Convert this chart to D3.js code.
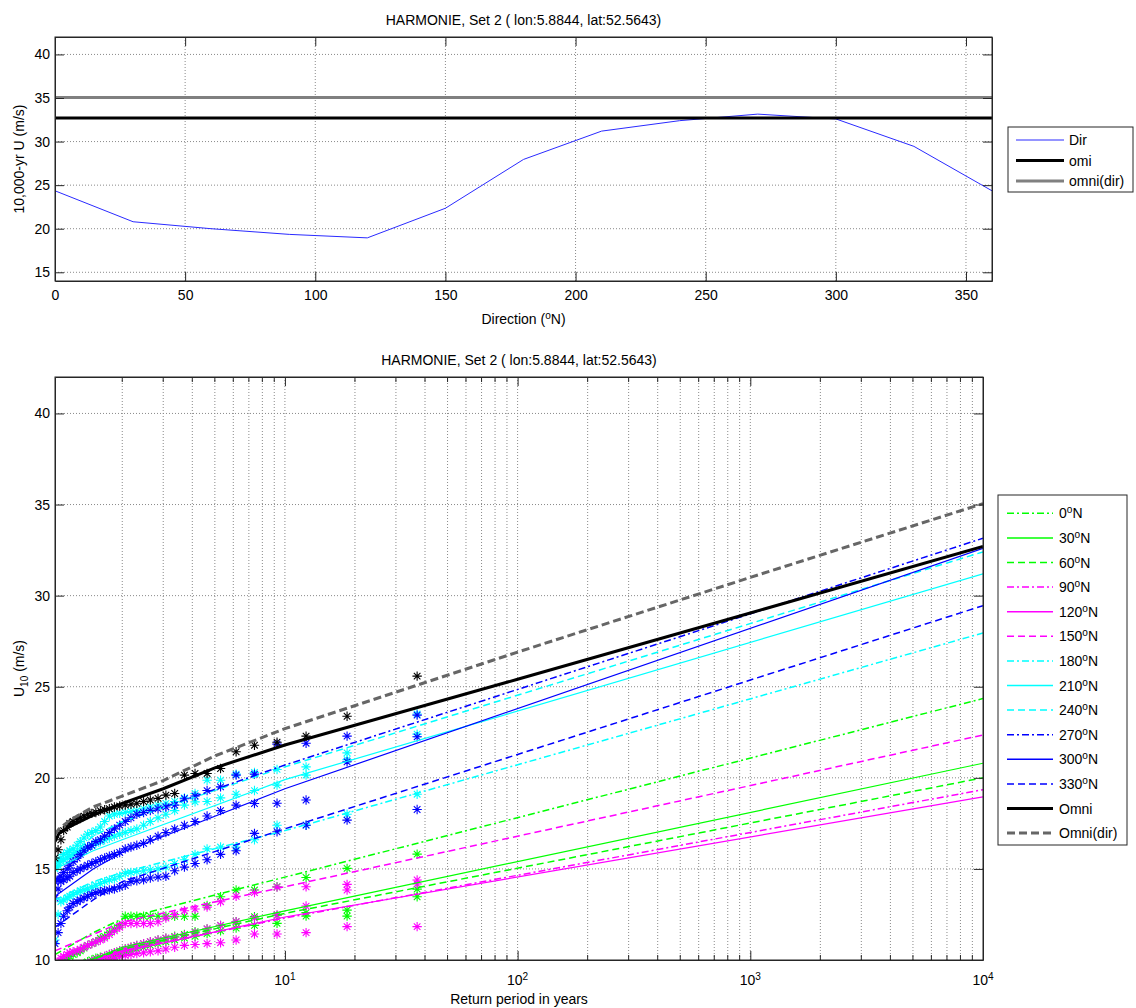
<!DOCTYPE html>
<html><head><meta charset="utf-8">
<script src="https://cdn.jsdelivr.net/npm/d3@7"></script>
<style>
body{margin:0;background:#fff;}
text{font-family:"Liberation Sans",Arial,Helvetica,sans-serif;fill:#000;}
</style>
</head><body>
<svg id="c" width="1136" height="1008"></svg>
<script>
// ---------------- DATA ----------------
const titleText = "HARMONIE, Set 2 ( lon:5.8844, lat:52.5643)";
// top panel: 10,000-yr value per direction
const dirAngles = [0,30,60,90,120,150,180,210,240,270,300,330,360];
const dir10k    = [24.35,20.8,20.0,19.35,18.95,22.35,27.95,31.2,32.4,33.15,32.6,29.45,24.35];
const omniLevel = 32.7;
const omniDirLevel = 35.05;
const topXTicks = [0,50,100,150,200,250,300,350];
const topYTicks = [15,20,25,30,35,40];

// bottom panel
const botYTicks = [10,15,20,25,30,35,40];
const botXTicks = [10,100,1000,10000];
const botXExp   = ["1","2","3","4"];
const dirLabels = ["0","30","60","90","120","150","180","210","240","270","300","330"];
const dirColors = ["#00ff00","#00ff00","#00ff00","#ff00ff","#ff00ff","#ff00ff","#00ffff","#00ffff","#00ffff","#0000ff","#0000ff","#0000ff"];
const dirStyles = ["dashdot","solid","dashed","dashdot","solid","dashed","dashdot","solid","dashed","dashdot","solid","dashed"];

// fitted curves (return period -> U10)
const fitT = [1.028,1.5,2,10,10000];
const fit0   = [10.3,11.5,12.26,14.55,24.35];
const fit30  = [9.3,10.05,10.7,12.7,20.8];
const fit60  = [9.2,10.0,10.6,12.56,20.0];
const fit90  = [9.2,9.95,10.5,12.3,19.35];
const fit120 = [9.1,9.9,10.45,12.36,18.95];
const fit150 = [10.5,11.4,12.09,14.02,22.35];
const fit180 = [13.3,14.3,14.8,17.1,27.95];
const fit210 = [15.0,16.0,16.6,19.9,31.2];
const fit240 = [15.0,16.8,17.6,20.6,32.4];
const fit270 = [14.4,16.3,17.6,20.7,33.15];
const fit300 = [13.5,15.0,15.9,19.4,32.6];
const fit330 = [11.8,13.3,14.3,17.2,29.45];
const omniT    = [1.028,1.07,1.2,1.5,2,3,5,10,100,1000,10000];
const omniFit  = [16.5,16.95,17.35,17.95,18.6,19.4,20.55,21.8,25.41,29.05,32.7];
const omniDirFit = [16.9,17.2,17.7,18.4,19.0,19.85,21.2,22.7,26.9,31.0,35.05];

// empirical return periods of the ranked annual maxima
const empT = [37,18.5,12.33,9.25,7.4,6.17,5.29,4.63,4.11,3.7,3.36,3.08,2.85,2.64,2.47,2.31,2.18,2.06,1.95,1.85,1.76,1.68,1.61,1.54,1.48,1.42,1.37,1.32,1.28,1.23,1.19,1.16,1.12,1.09,1.06,1.028];
const pts0   = [15.81,15.03,14.53,14.02,13.84,13.84,13.47,13.0,12.4,12.4,12.4,12.4,12.4,12.4,12.4,12.4,12.4,12.4,11.9,11.7,11.5,11.3,11.2,11.0,10.9,10.8,10.65,10.5,10.4,10.3,10.2,10.1,10.0,9.9,9.7,9.5];
const pts30  = [13.89,12.74,12.6,12.45,12.38,12.1,11.9,11.7,11.55,11.4,11.3,11.2,11.1,11.0,10.9,10.8,10.7,10.6,10.5,10.4,10.3,10.2,10.15,10.1,10.0,9.9,9.8,9.7,9.6,9.5,9.4,9.3,9.2,9.1,9.0,8.9];
const pts60  = [13.47,12.41,12.41,12.01,11.9,11.75,11.6,11.45,11.3,11.2,11.1,11.0,10.9,10.8,10.7,10.6,10.5,10.4,10.3,10.2,10.1,10.05,10.0,9.9,9.8,9.7,9.6,9.5,9.4,9.3,9.2,9.1,9.0,8.9,8.8,8.7];
const pts90  = [14.17,13.84,12.96,12.47,12.3,12.1,11.9,11.7,11.5,11.35,11.25,11.2,11.1,11.0,10.9,10.8,10.7,10.6,10.5,10.4,10.3,10.2,10.1,10.0,9.9,9.8,9.7,9.6,9.5,9.4,9.3,9.2,9.1,9.0,8.9,8.8];
const pts120 = [11.83,11.83,11.5,11.43,11.43,11.1,10.95,10.9,10.85,10.8,10.7,10.6,10.5,10.45,10.4,10.35,10.3,10.25,10.2,10.1,10.0,9.9,9.8,9.7,9.6,9.5,9.4,9.3,9.2,9.1,9.0,8.9,8.8,8.7,8.6,8.5];
const pts150 = [14.39,14.15,14.02,14.0,13.7,13.5,13.2,12.9,12.8,12.7,12.5,12.3,12.1,12.0,12.0,12.0,12.0,12.0,11.8,11.6,11.4,11.2,11.1,11.0,10.9,10.8,10.7,10.6,10.5,10.45,10.4,10.3,10.2,10.1,9.9,9.7];
const pts180 = [19.1,18.0,17.4,17.4,16.6,16.2,16.2,16.1,15.8,15.5,15.3,15.1,15.0,14.95,14.9,14.85,14.8,14.75,14.6,14.45,14.4,14.3,14.2,14.1,14.0,13.9,13.85,13.8,13.7,13.6,13.5,13.4,13.3,13.2,12.5,11.1];
const pts210 = [22.4,21.0,20.15,19.6,19.3,19.1,18.9,18.7,18.68,18.5,18.2,18.0,17.8,17.6,17.4,17.2,17.1,17.0,16.9,16.8,16.7,16.6,16.5,16.4,16.3,16.2,16.1,16.0,15.9,15.8,15.7,15.6,15.5,15.4,15.2,15.0];
const pts240 = [23.5,21.37,20.6,20.46,20.3,20.2,19.87,19.87,19.14,18.9,18.7,18.6,18.5,18.4,18.3,18.2,18.15,18.1,18.05,18.0,17.9,17.6,17.3,17.1,17.0,16.9,16.7,16.5,16.3,16.1,16.0,15.9,15.8,15.6,15.4,15.1];
const pts270 = [23.44,22.29,21.9,21.85,20.2,20.15,19.5,19.3,19.0,18.85,18.5,18.4,18.3,18.2,18.1,18.0,17.8,17.6,17.4,17.2,17.0,16.8,16.6,16.5,16.3,16.2,16.0,15.8,15.6,15.4,15.2,15.0,14.8,14.6,14.4,14.3];
const pts300 = [22.25,20.88,18.78,18.6,18.59,18.5,18.2,17.9,17.6,17.4,17.2,17.0,16.8,16.6,16.4,16.3,16.2,16.1,15.9,15.8,15.7,15.6,15.5,15.4,15.3,15.2,15.1,15.0,14.9,14.8,14.6,14.5,14.4,14.3,13.9,13.4];
const pts330 = [18.26,17.68,17.4,17.04,16.95,16.0,15.8,15.5,15.3,15.1,14.9,14.6,14.55,14.5,14.4,14.35,14.3,14.1,14.0,13.9,13.85,13.8,13.75,13.7,13.6,13.5,13.4,13.3,13.2,13.1,12.9,12.7,12.4,12.0,11.5,10.9];
const ptsOmni = [25.58,23.38,22.29,21.95,21.79,21.43,20.51,20.24,20.24,20.15,19.14,19.05,18.87,18.78,18.7,18.6,18.55,18.5,18.45,18.4,18.3,18.25,18.2,18.1,18.05,18.0,17.9,17.8,17.7,17.6,17.5,17.3,17.1,16.6,16.05,15.6];

const fits = [fit0,fit30,fit60,fit90,fit120,fit150,fit180,fit210,fit240,fit270,fit300,fit330];
const pts  = [pts0,pts30,pts60,pts90,pts120,pts150,pts180,pts210,pts240,pts270,pts300,pts330];

// ---------------- DRAW ----------------
const svg = d3.select('#c');
const AX = '#262626', GRID = '#8a8a8a';
const dashOf = s => s==='dashed' ? '7,4' : (s==='dashdot' ? '7,3,2,3' : null);

function supText(g, x, y, parts, anchor, size){
  const t = g.append('text').attr('x',x).attr('y',y).attr('font-size',size).attr('text-anchor',anchor||'start');
  parts.forEach(p=>{
    const ts = t.append('tspan').text(p.t);
    if(p.sup){ ts.attr('dy',-5).attr('font-size',size*0.72); }
    else if(p.sub){ ts.attr('dy',4).attr('font-size',size*0.72); }
    else if(p.back){ ts.attr('dy',p.back); }
  });
  return t;
}

// ===== TOP PANEL =====
const tL=55,tR=992,tT=37,tB=281;
const xT = d3.scaleLinear().domain([0,360]).range([tL,tR]);
const yT = d3.scaleLinear().domain([14,42]).range([tB,tT]);
const gT = svg.append('g');
gT.append('clipPath').attr('id','clipT').append('rect').attr('x',tL).attr('y',tT).attr('width',tR-tL).attr('height',tB-tT);
gT.selectAll('.gx').data(topXTicks.filter(v=>v>0)).enter().append('line')
  .attr('x1',d=>xT(d)).attr('x2',d=>xT(d)).attr('y1',tT).attr('y2',tB)
  .attr('stroke',GRID).attr('stroke-dasharray','1,2').attr('stroke-width',1);
gT.selectAll('.gy').data(topYTicks).enter().append('line')
  .attr('x1',tL).attr('x2',tR).attr('y1',d=>yT(d)).attr('y2',d=>yT(d))
  .attr('stroke',GRID).attr('stroke-dasharray','1,2').attr('stroke-width',1);
const pc = gT.append('g').attr('clip-path','url(#clipT)');
const dirData = dirAngles.map((a,i)=>[a,dir10k[i]]);
pc.append('path').datum(dirData).attr('d',d3.line().x(d=>xT(d[0])).y(d=>yT(d[1])))
  .attr('fill','none').attr('stroke','#2a2aff').attr('stroke-width',1);
pc.append('path').datum([[0,omniLevel],[360,omniLevel]]).attr('d',d3.line().x(d=>xT(d[0])).y(d=>yT(d[1])))
  .attr('fill','none').attr('stroke','#000').attr('stroke-width',3);
pc.append('path').datum([[0,omniDirLevel],[360,omniDirLevel]]).attr('d',d3.line().x(d=>xT(d[0])).y(d=>yT(d[1])))
  .attr('fill','none').attr('stroke','#808080').attr('stroke-width',3);
function styleAxis(g){ g.selectAll('path').attr('stroke',AX); g.selectAll('line').attr('stroke',AX);
  g.selectAll('text').attr('font-size',14).attr('fill','#000').attr('font-family','"Liberation Sans",Arial,sans-serif'); }
gT.append('g').attr('transform',`translate(0,${tB})`).call(d3.axisBottom(xT).tickValues(topXTicks).tickSize(-9).tickSizeOuter(0).tickPadding(9).tickFormat(d3.format('d'))).call(styleAxis);
gT.append('g').attr('transform',`translate(0,${tT})`).call(d3.axisTop(xT).tickValues(topXTicks).tickSize(-9).tickSizeOuter(0).tickFormat('')).call(styleAxis);
gT.append('g').attr('transform',`translate(${tL},0)`).call(d3.axisLeft(yT).tickValues(topYTicks).tickSize(-9).tickSizeOuter(0).tickPadding(5)).call(styleAxis);
gT.append('g').attr('transform',`translate(${tR},0)`).call(d3.axisRight(yT).tickValues(topYTicks).tickSize(-9).tickSizeOuter(0).tickFormat('')).call(styleAxis);
gT.append('rect').attr('x',tL).attr('y',tT).attr('width',tR-tL).attr('height',tB-tT).attr('fill','none').attr('stroke',AX);
gT.append('text').attr('x',(tL+tR)/2).attr('y',25).attr('text-anchor','middle').attr('font-size',14).text(titleText);
supText(gT,(tL+tR)/2,324,[{t:'Direction ('},{t:'o',sup:true},{t:'N)',back:5}],'middle',14);
gT.append('text').attr('transform',`translate(24,${(tT+tB)/2}) rotate(-90)`).attr('text-anchor','middle').attr('font-size',14).text('10,000-yr U (m/s)');
const lgT = svg.append('g');
lgT.append('rect').attr('x',1008).attr('y',127).attr('width',125).attr('height',65).attr('fill','#fff').attr('stroke',AX);
[['Dir','#2a2aff',1],['omi','#000',3],['omni(dir)','#808080',3]].forEach((e,i)=>{
  const yy = 140 + i*20.5;
  lgT.append('line').attr('x1',1016).attr('x2',1064).attr('y1',yy).attr('y2',yy).attr('stroke',e[1]).attr('stroke-width',e[2]);
  lgT.append('text').attr('x',1069).attr('y',yy+5).attr('font-size',14).text(e[0]);
});

// ===== BOTTOM PANEL =====
const bL=55,bR=983,bT=377,bB=960;
const xB = d3.scaleLog().domain([1.028,10000]).range([bL,bR]);
const yB = d3.scaleLinear().domain([10,42]).range([bB,bT]);
const gB = svg.append('g');
gB.append('clipPath').attr('id','clipB').append('rect').attr('x',bL).attr('y',bT).attr('width',bR-bL).attr('height',bB-bT);
const minorX = [];
[1,10,100,1000].forEach(dec=>{ for(let m=2;m<=9;m++) minorX.push(dec*m); });
const allGridX = minorX.concat([10,100,1000]);
gB.selectAll('.gx').data(allGridX).enter().append('line')
  .attr('x1',d=>xB(d)).attr('x2',d=>xB(d)).attr('y1',bT).attr('y2',bB)
  .attr('stroke',GRID).attr('stroke-dasharray','1,2').attr('stroke-width',1);
gB.selectAll('.gy').data(botYTicks.filter(v=>v>10)).enter().append('line')
  .attr('x1',bL).attr('x2',bR).attr('y1',d=>yB(d)).attr('y2',d=>yB(d))
  .attr('stroke',GRID).attr('stroke-dasharray','1,2').attr('stroke-width',1);

const pb = gB.append('g').attr('clip-path','url(#clipB)');
const r=4.7, dd=3.3;
const star = `M${-r},0H${r}M0,${-r}V${r}M${-dd},${-dd}L${dd},${dd}M${-dd},${dd}L${dd},${-dd}`;
function drawPts(vals,color){
  const data = empT.map((t,i)=>[t,vals[i]]).filter(d=>d[1]>=9.8);
  pb.append('g').selectAll('path').data(data).enter().append('path')
    .attr('transform',d=>`translate(${xB(d[0])},${yB(d[1])})`).attr('d',star)
    .attr('fill','none').attr('stroke',color).attr('stroke-width',1.1);
}
pts.forEach((p,i)=>drawPts(p,dirColors[i]));
drawPts(ptsOmni,'#000');

const lineB = d3.line().x(d=>xB(d[0])).y(d=>yB(d[1]));
fits.forEach((f,i)=>{
  pb.append('path').datum(fitT.map((t,j)=>[t,f[j]])).attr('d',lineB)
    .attr('fill','none').attr('stroke',dirColors[i]).attr('stroke-width',dirStyles[i]==='solid'?1.2:1.5)
    .attr('stroke-dasharray',dashOf(dirStyles[i]));
});
pb.append('path').datum(omniT.map((t,j)=>[t,omniFit[j]])).attr('d',lineB)
  .attr('fill','none').attr('stroke','#000').attr('stroke-width',3);
pb.append('path').datum(omniT.map((t,j)=>[t,omniDirFit[j]])).attr('d',lineB)
  .attr('fill','none').attr('stroke','#666').attr('stroke-width',3).attr('stroke-dasharray','8,4');

const gxb = gB.append('g').attr('transform',`translate(0,${bB})`);
gxb.call(d3.axisBottom(xB).tickValues(botXTicks).tickSize(-9).tickSizeOuter(0).tickFormat('')).call(styleAxis);
gxb.selectAll('.mt').data(minorX).enter().append('line').attr('x1',d=>xB(d)).attr('x2',d=>xB(d)).attr('y1',0).attr('y2',-5).attr('stroke',AX);
const gxt = gB.append('g').attr('transform',`translate(0,${bT})`);
gxt.call(d3.axisTop(xB).tickValues(botXTicks).tickSize(-9).tickSizeOuter(0).tickFormat('')).call(styleAxis);
gxt.selectAll('.mt').data(minorX).enter().append('line').attr('x1',d=>xB(d)).attr('x2',d=>xB(d)).attr('y1',0).attr('y2',5).attr('stroke',AX);
gB.append('g').attr('transform',`translate(${bL},0)`).call(d3.axisLeft(yB).tickValues(botYTicks).tickSize(-9).tickSizeOuter(0).tickPadding(5)).call(styleAxis);
gB.append('g').attr('transform',`translate(${bR},0)`).call(d3.axisRight(yB).tickValues(botYTicks).tickSize(-9).tickSizeOuter(0).tickFormat('')).call(styleAxis);
gB.append('rect').attr('x',bL).attr('y',bT).attr('width',bR-bL).attr('height',bB-bT).attr('fill','none').attr('stroke',AX);
botXTicks.forEach((v,i)=>{
  supText(gB,xB(v),985,[{t:'10'},{t:botXExp[i],sup:true}],'middle',14);
});
gB.append('text').attr('x',(bL+bR)/2).attr('y',365).attr('text-anchor','middle').attr('font-size',14).text(titleText);
gB.append('text').attr('x',(bL+bR)/2).attr('y',1004).attr('text-anchor','middle').attr('font-size',14).text('Return period in years');
const yl = gB.append('text').attr('transform',`translate(24,${(bT+bB)/2}) rotate(-90)`).attr('text-anchor','middle').attr('font-size',14);
yl.append('tspan').text('U');
yl.append('tspan').attr('dy',4).attr('font-size',10).text('10');
yl.append('tspan').attr('dy',-4).text(' (m/s)');

const lgB = svg.append('g');
lgB.append('rect').attr('x',998).attr('y',495).attr('width',129).attr('height',350).attr('fill','#fff').attr('stroke',AX);
const legEntries = dirLabels.map((l,i)=>({lab:l,color:dirColors[i],dash:dashOf(dirStyles[i]),w:1.5,deg:true}))
  .concat([{lab:'Omni',color:'#000',dash:null,w:3,deg:false},{lab:'Omni(dir)',color:'#666',dash:'8,4',w:3,deg:false}]);
legEntries.forEach((e,i)=>{
  const yy = 513.3 + i*24.6;
  lgB.append('line').attr('x1',1007).attr('x2',1053).attr('y1',yy).attr('y2',yy)
    .attr('stroke',e.color).attr('stroke-width',e.w).attr('stroke-dasharray',e.dash);
  if(e.deg) supText(lgB,1059,yy+5,[{t:e.lab},{t:'o',sup:true},{t:'N',back:5}],'start',14);
  else lgB.append('text').attr('x',1059).attr('y',yy+5).attr('font-size',14).text(e.lab);
});
</script>
</body></html>
